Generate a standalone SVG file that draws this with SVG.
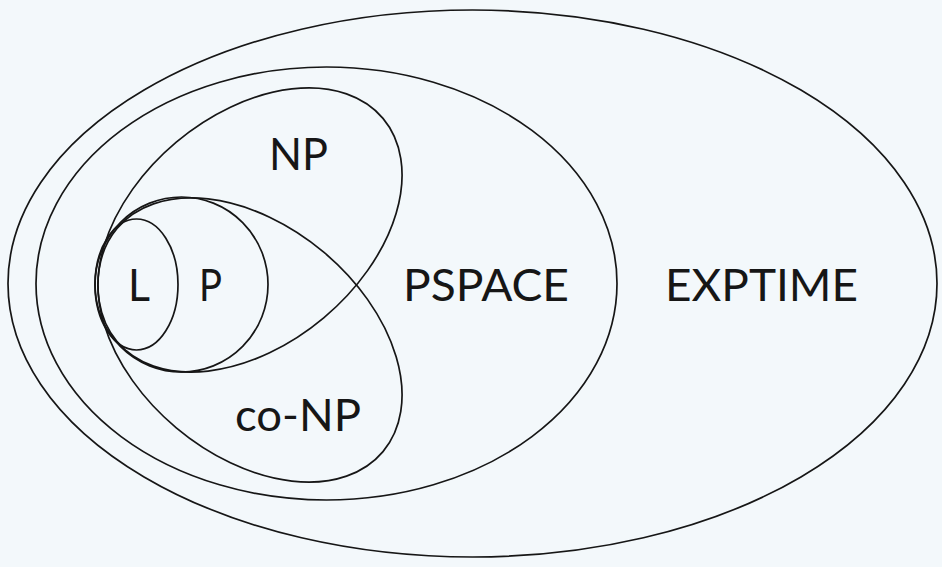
<svg xmlns="http://www.w3.org/2000/svg" width="942" height="567" viewBox="0 0 942 567">
<style>
.s{fill:none;stroke:#161616;stroke-width:1.7}
.t{font-family:Lato,"Open Sans","Liberation Sans",sans-serif;font-size:45px;fill:#161616}
</style>
<rect width="942" height="567" fill="#f3f8fb"/>
<g id="exptime"><ellipse class="s" cx="472.5" cy="283.5" rx="464.5" ry="273.5"/><text class="t" x="665" y="301" textLength="193" lengthAdjust="spacingAndGlyphs">EXPTIME</text></g>
<g id="pspace"><ellipse class="s" cx="326.5" cy="283.5" rx="290.5" ry="216.5"/><text class="t" x="403" y="301" textLength="166" lengthAdjust="spacingAndGlyphs">PSPACE</text></g>
<g id="np"><ellipse class="s" cx="250" cy="230" rx="173.6" ry="114.7" transform="rotate(-40 250 230)"/><text class="t" x="269" y="170" textLength="59" lengthAdjust="spacingAndGlyphs">NP</text></g>
<g id="conp"><ellipse class="s" cx="250" cy="340" rx="173.6" ry="114.7" transform="rotate(40 250 340)"/><text class="t" x="235" y="431" textLength="126" lengthAdjust="spacingAndGlyphs">co-NP</text></g>
<g id="p"><ellipse class="s" cx="181.5" cy="284.5" rx="86.5" ry="87.5"/><text class="t" x="199" y="301" textLength="23" lengthAdjust="spacingAndGlyphs">P</text></g>
<g id="l"><ellipse class="s" cx="136.5" cy="284.5" rx="41.5" ry="65.5"/><text class="t" x="128" y="301" textLength="22" lengthAdjust="spacingAndGlyphs">L</text></g>
<g id="connectors"/>
</svg>
